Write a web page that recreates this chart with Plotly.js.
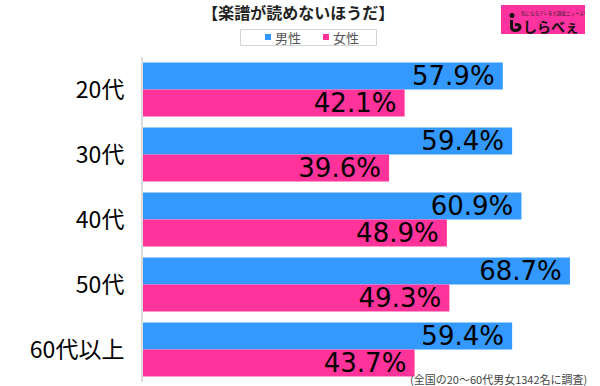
<!DOCTYPE html>
<html>
<head>
<meta charset="utf-8">
<script src="https://cdn.plot.ly/plotly-3.0.1.min.js"></script>
<style>html,body{margin:0;padding:0;background:#fff;}#chart{width:600px;height:386px;}</style>
</head>
<body>
<div id="chart"></div>
<script>
const categories = ['20代', '30代', '40代', '50代', '60代以上'];
const maleValues = [57.9, 59.4, 60.9, 68.7, 59.4];
const femaleValues = [42.1, 39.6, 48.9, 49.3, 43.7];
const seriesNames = ['男性', '女性'];
const chartTitle = '【楽譜が読めないほうだ】';
const noteText = '(全国の20〜60代男女1342名に調査)';

const W = 600, H = 386;
const M = {l: 143, r: 22, t: 57, b: 4};
const PW = W - M.l - M.r, PH = H - M.t - M.b;
const px = v => (v - M.l) / PW;
const py = v => (H - M.b - v) / PH;

const BLUE = '#3399ff', PINK = '#ff3399';
const JP = '"Noto Sans CJK JP", "Noto Sans", sans-serif';

function barTrace(name, vals, color) {
  return {
    type: 'bar', orientation: 'h', name: name,
    y: categories, x: vals,
    marker: {color: color},
    texttemplate: '%{x:.1f}%\u2009',
    textposition: 'inside', insidetextanchor: 'end',
    textangle: 0, constraintext: 'none',
    textfont: {family: '"DejaVu Sans", sans-serif', size: 26, color: '#000'},
    showlegend: false, hoverinfo: 'skip'
  };
}

const data = [
  barTrace(seriesNames[0], maleValues, BLUE),
  barTrace(seriesNames[1], femaleValues, PINK)
];

// legend box drawn by hand (compact, as in the reference)
const legendItems = [
  {name: seriesNames[0], color: BLUE, sx: 268, tx: 273},
  {name: seriesNames[1], color: PINK, sx: 326, tx: 331}
];
const shapes = [
  {type: 'rect', xref: 'paper', yref: 'paper',
   x0: px(240.5), x1: px(376.5), y0: py(29.5), y1: py(45.5),
   fillcolor: '#fff', line: {color: '#d4d4d4', width: 1}, layer: 'above'},
  {type: 'rect', xref: 'paper', yref: 'paper',
   x0: px(501), x1: px(585), y0: py(5), y1: py(34),
   fillcolor: '#ff33a0', line: {width: 0}, layer: 'above'},
  {type: 'circle', xref: 'paper', yref: 'paper',
   x0: px(509.5), x1: px(514.5), y0: py(13), y1: py(18),
   fillcolor: '#111', line: {width: 0}, layer: 'above'},
  {type: 'path', xref: 'paper', yref: 'paper',
   path: 'M ' + px(511.5) + ' ' + py(20) + ' L ' + px(511.5) + ' ' + py(27) +
         ' Q ' + px(512) + ' ' + py(31) + ' ' + px(516) + ' ' + py(30.5) +
         ' Q ' + px(520) + ' ' + py(30) + ' ' + px(520) + ' ' + py(26.5) +
         ' Q ' + px(519) + ' ' + py(23.5) + ' ' + px(515) + ' ' + py(25),
   line: {color: '#111', width: 3}, layer: 'above'}
];
const annotations = [];
legendItems.forEach(it => {
  shapes.push({type: 'rect', xref: 'paper', yref: 'paper',
    x0: px(it.sx - 3), x1: px(it.sx + 3), y0: py(34), y1: py(40),
    fillcolor: it.color, line: {width: 0}, layer: 'above'});
  annotations.push({xref: 'paper', yref: 'paper', x: px(it.tx), y: py(37.5),
    text: it.name, showarrow: false, xanchor: 'left', yanchor: 'middle',
    font: {family: JP, size: 13, color: '#555'}});
});
annotations.push(
  {xref: 'paper', yref: 'paper', x: px(551), y: py(26), text: '<b>しらべぇ</b>',
   showarrow: false, xanchor: 'center', yanchor: 'middle',
   font: {family: JP, size: 14, color: '#111'}},
  {xref: 'paper', yref: 'paper', x: px(553), y: py(13.5), text: '気になるアレを大調査ニュース!',
   showarrow: false, xanchor: 'center', yanchor: 'middle', height: 7,
   font: {family: JP, size: 4.5, color: '#222'}},
  {xref: 'paper', yref: 'paper', x: px(498), y: py(379), text: noteText,
   showarrow: false, xanchor: 'center', yanchor: 'middle',
   font: {family: JP, size: 11, color: '#444'}}
);

const layout = {
  width: W, height: H,
  margin: M,
  paper_bgcolor: '#fff', plot_bgcolor: '#fff',
  font: {family: JP, color: '#000'},
  barmode: 'group', bargap: 0.17, bargroupgap: 0,
  title: {
    text: chartTitle, xref: 'container', x: 0.497, xanchor: 'center',
    yref: 'container', y: 1 - 13 / H, yanchor: 'middle',
    font: {family: JP, size: 16, weight: 'bold', color: '#222'}
  },
  showlegend: false,
  xaxis: {range: [0, 70], visible: false, fixedrange: true},
  yaxis: {
    autorange: 'reversed', type: 'category',
    showline: true, linecolor: '#dcdcdc', linewidth: 2,
    showgrid: false, zeroline: false, ticks: '',
    ticklabelstandoff: 12,
    tickfont: {family: JP, size: 23, color: '#000'},
    fixedrange: true
  },
  shapes: shapes,
  annotations: annotations
};

Plotly.newPlot('chart', data, layout, {displayModeBar: false, staticPlot: true});
</script>
</body>
</html>
